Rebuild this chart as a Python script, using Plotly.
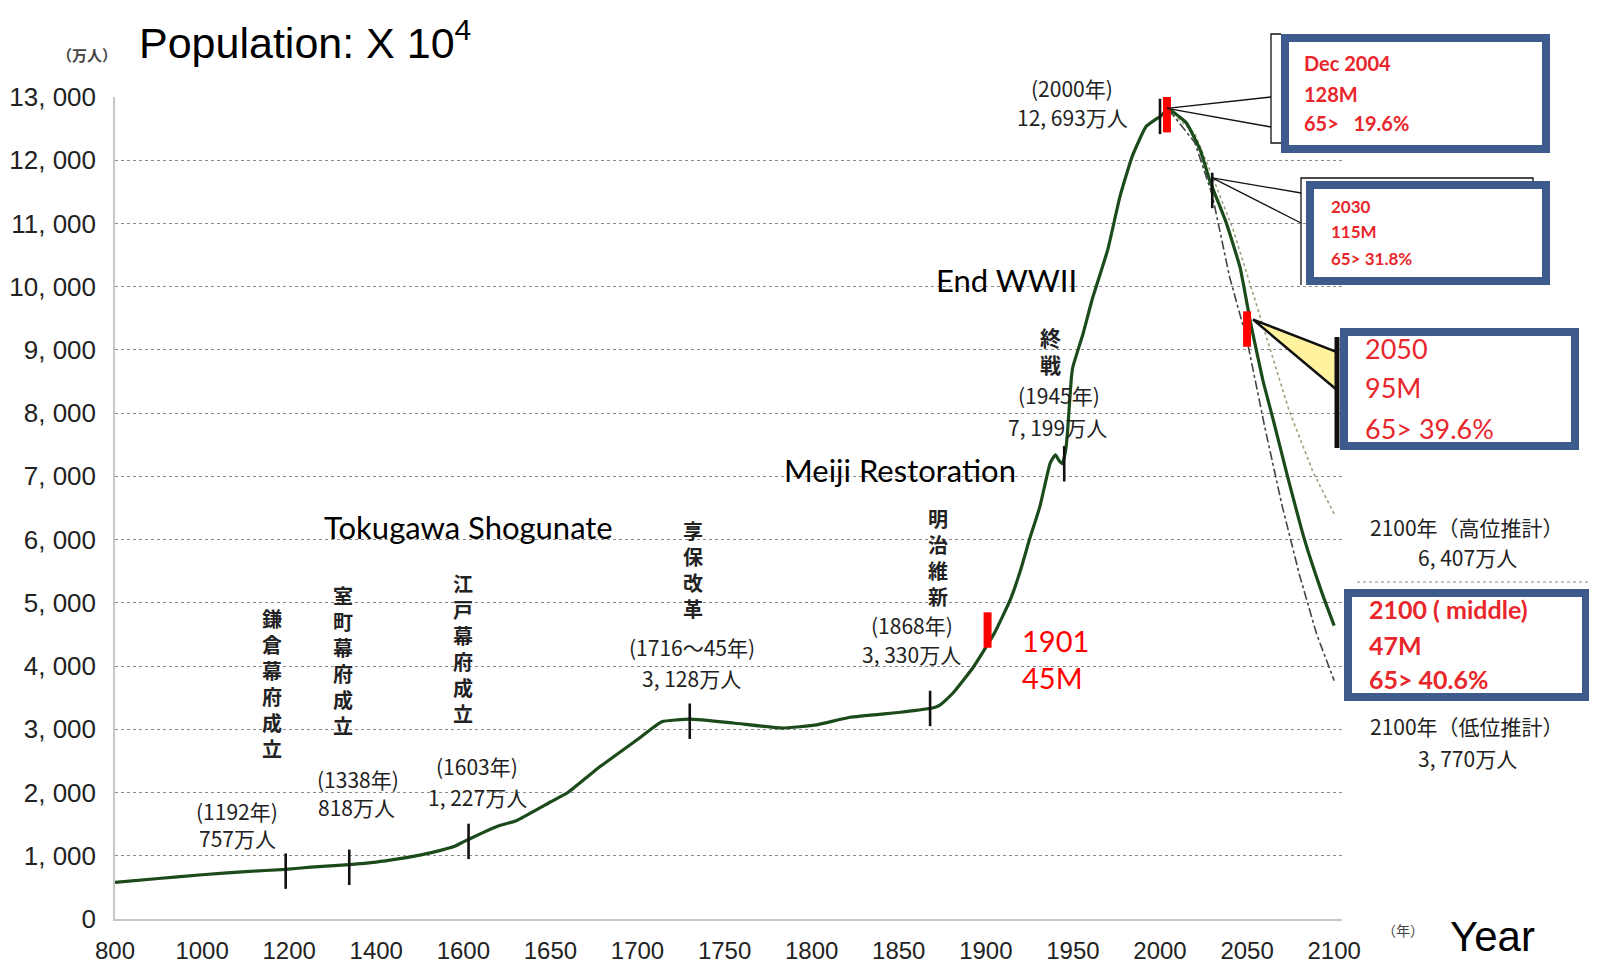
import numpy as np
import plotly.graph_objects as go

# ---------------- data ----------------
tick_years = [800, 1000, 1200, 1400, 1600, 1650, 1700, 1750, 1800, 1850,
              1900, 1950, 2000, 2050, 2100]
y_tick_vals = list(range(0, 13001, 1000))
y_tick_text = ["0", "1, 000", "2, 000", "3, 000", "4, 000", "5, 000", "6, 000",
               "7, 000", "8, 000", "9, 000", "10, 000", "11, 000", "12, 000", "13, 000"]

# historical + middle projection (万人)
pop_years = [800, 900, 1000, 1100, 1192, 1250, 1338, 1400, 1450, 1500, 1550, 1580,
             1600, 1610, 1620, 1630, 1650, 1660, 1678, 1700, 1714, 1730, 1755, 1783,
             1803, 1822, 1851, 1870, 1874, 1881, 1893, 1905, 1914, 1920, 1925, 1931,
             1937, 1940, 1942, 1944, 1946, 1947, 1949, 1950, 1956, 1961, 1970, 1977,
             1984, 1992, 2000, 2005, 2015, 2023, 2029, 2038, 2046, 2052, 2059, 2065,
             2073, 2083, 2093, 2100]
pop_values = [580, 640, 700, 750, 785, 820, 860, 900, 950, 1010, 1090, 1150,
              1220, 1350, 1470, 1550, 1850, 2000, 2400, 2840, 3120, 3160, 3100, 3020,
              3070, 3190, 3270, 3340, 3390, 3570, 3990, 4525, 5047, 5522, 5997, 6519,
              7215, 7342, 7250, 7199, 7450, 7737, 8528, 8734, 9272, 9794, 10585, 11424,
              12057, 12532, 12693, 12800, 12595, 12168, 11646, 11013, 10300, 9430, 8528, 7896,
              7025, 5997, 5158, 4640]

high_years = [2005, 2020, 2030, 2042, 2054, 2064, 2074, 2088, 2100]
high_values = [12800, 12420, 11750, 10900, 9840, 8960, 8050, 7060, 6407]

low_years = [2005, 2020, 2030, 2040, 2050, 2060, 2070, 2080, 2090, 2100]
low_values = [12800, 12280, 11450, 10150, 9150, 7800, 6550, 5450, 4500, 3770]

event_years = [1192, 1338, 1603, 1730, 1868, 1945, 2000, 2030]
event_values = [757, 818, 1227, 3128, 3330, 7199, 12693, 11522]

red_years = [1901, 2004, 2050]
red_values = [4570, 12720, 9330]

# ---------------- styling / layout helpers ----------------
PAGE_OFF = 8                              # default body margin of the html page
FIG_W, FIG_H = 1597 - 2 * PAGE_OFF, 973 - 2 * PAGE_OFF
L, R, T, B = 115, 1342, 97, 919          # plot area in page pixels
XMAX = 14.09
YMAX = 13000
TICK_HALF = 280

JP = "Noto Sans CJK JP, Noto Sans, sans-serif"
NARROW = "Liberation Sans Narrow, Arial Narrow, Liberation Sans, Arial, sans-serif"
EN = "Lato, Open Sans, sans-serif"
RED = "#e8262b"
BLUE = "#3d5b8c"


def xpos(years):
    return np.interp(years, tick_years, np.arange(len(tick_years)))


def px2x(p):
    return (p - L) / (R - L)


def px2y(p):
    return (B - p) / (B - T)


def d2px(year, val):
    return L + xpos(year) / XMAX * (R - L), B - val / YMAX * (B - T)


def seg(years, values, half):
    xs, ys = [], []
    for yr, v in zip(years, values):
        x = float(xpos(yr))
        xs += [x, x, None]
        ys += [v - half, v + half, None]
    return xs, ys


fig = go.Figure()
fig.add_trace(go.Scatter(x=xpos(low_years), y=low_values, mode="lines",
                         line=dict(color="#444444", width=1.6, dash="dashdot"),
                         hoverinfo="skip"))
fig.add_trace(go.Scatter(x=xpos(high_years), y=high_values, mode="lines",
                         line=dict(color="#9aa27a", width=1.6, dash="dot"),
                         hoverinfo="skip"))
fig.add_trace(go.Scatter(x=xpos(pop_years), y=pop_values, mode="lines",
                         line=dict(color="#1b4a1b", width=3.2, shape="spline", smoothing=0.4)))
ex, ey = seg(event_years, event_values, TICK_HALF)
fig.add_trace(go.Scatter(x=ex, y=ey, mode="lines", line=dict(color="#111111", width=2.6),
                         hoverinfo="skip"))
rx, ry = seg(red_years, red_values, TICK_HALF)
fig.add_trace(go.Scatter(x=rx, y=ry, mode="lines", line=dict(color="#ff0000", width=8),
                         hoverinfo="skip"))


def A(xp, yp, text, size, color="#222222", family=JP, xanchor="center", yanchor="middle"):
    return dict(x=px2x(xp), y=px2y(yp), xref="paper", yref="paper", text=text,
                showarrow=False, font=dict(size=size, color=color, family=family),
                xanchor=xanchor, yanchor=yanchor)


def V(s):
    return "<b>" + "<br>".join(list(s)) + "</b>"


ann = [
    A(137, 40, "Population: X 10<sup>4</sup>", 43, "#000000", NARROW, xanchor="left"),
    A(87, 55, "<b>（万人）</b>", 15, "#444444"),
    A(1403, 930, "（年）", 14, "#444444"),
    A(1492, 936, "Year", 42, "#000000", NARROW),
    A(468, 527, "Tokugawa Shogunate", 31, "#000000", EN),
    A(900, 470, "Meiji Restoration", 31, "#000000", EN),
    A(1006, 280, "End WWII", 31, "#000000", EN),
    A(1020, 640, "1901", 29, "#ff0000", EN, xanchor="left"),
    A(1020, 677, "45M", 29, "#ff0000", EN, xanchor="left"),
    # Japanese event labels
    A(272, 683, V("鎌倉幕府成立"), 20),
    A(237, 811, "(1192年)", 21), A(237, 838, "757万人", 21),
    A(343, 660, V("室町幕府成立"), 20),
    A(358, 779, "(1338年)", 21), A(356, 807, "818万人", 21),
    A(463, 648, V("江戸幕府成立"), 20),
    A(477, 766, "(1603年)", 21), A(478, 797, "1, 227万人", 21),
    A(693, 569, V("享保改革"), 20),
    A(692, 647, "(1716～45年)", 21), A(691, 678, "3, 128万人", 21),
    A(938, 557, V("明治維新"), 20),
    A(912, 625, "(1868年)", 21), A(911, 654, "3, 330万人", 21),
    A(1050, 350, V("終戦"), 21),
    A(1059, 395, "(1945年)", 21), A(1057, 427, "7, 199万人", 21),
    A(1072, 88, "(2000年)", 21), A(1072, 117, "12, 693万人", 21),
    A(1467, 527, "2100年（高位推計）", 21), A(1467, 557, "6, 407万人", 21),
    A(1467, 726, "2100年（低位推計）", 21), A(1467, 758, "3, 770万人", 21),
    # boxes text
    A(1302, 63, "<b>Dec 2004</b>", 20, RED, EN, xanchor="left"),
    A(1302, 94, "<b>128M</b>", 20, RED, EN, xanchor="left"),
    A(1302, 123, "<b>65>   19.6%</b>", 20, RED, EN, xanchor="left"),
    A(1329, 206, "<b>2030</b>", 17, RED, EN, xanchor="left"),
    A(1329, 232, "<b>115M</b>", 17, RED, EN, xanchor="left"),
    A(1329, 259, "<b>65> 31.8%</b>", 17, RED, EN, xanchor="left"),
    A(1363, 348, "2050", 27, RED, EN, xanchor="left"),
    A(1363, 388, "95M", 27, RED, EN, xanchor="left"),
    A(1363, 428, "65> 39.6%", 27, RED, EN, xanchor="left"),
    A(1367, 609, "<b>2100 ( middle)</b>", 25, RED, EN, xanchor="left"),
    A(1367, 645, "<b>47M</b>", 25, RED, EN, xanchor="left"),
    A(1367, 679, "<b>65> 40.6%</b>", 25, RED, EN, xanchor="left"),
]


def rect(x0, y0, x1, y1, lc, lw, fill):
    return dict(type="rect", xref="paper", yref="paper", x0=px2x(x0), x1=px2x(x1),
                y0=px2y(y0), y1=px2y(y1), line=dict(color=lc, width=lw), fillcolor=fill)


def line(x0, y0, x1, y1, color="#111111", width=1.3, dash=None):
    return dict(type="line", xref="paper", yref="paper", x0=px2x(x0), x1=px2x(x1),
                y0=px2y(y0), y1=px2y(y1), line=dict(color=color, width=width, dash=dash))


def path(points, lc, lw, fill=None, close=False):
    s = "M " + " L ".join(f"{px2x(a):.5f},{px2y(b):.5f}" for a, b in points)
    if close:
        s += " Z"
    d = dict(type="path", xref="paper", yref="paper", path=s, line=dict(color=lc, width=lw))
    if fill:
        d["fillcolor"] = fill
    return d


m04x, m04y = d2px(red_years[1], red_values[1] + 100)
m30x, m30y = d2px(event_years[7], event_values[7] + 200)
m50x, m50y = d2px(red_years[2], red_values[2] + 150)

shapes = [
    # box 1 callout
    path([(1281, 34), (1271, 34), (1271, 143), (1281, 143)], "#111111", 1.3),
    line(m04x, m04y, 1271, 97), line(m04x, m04y, 1271, 127),
    rect(1285, 38, 1546, 149, BLUE, 8, "white"),
    # box 2 callout
    path([(1301, 285), (1301, 178), (1533, 178), (1533, 183)], "#111111", 1.3),
    line(m30x, m30y, 1301, 193), line(m30x, m30y, 1301, 223),
    rect(1310, 185, 1546, 281, BLUE, 8, "white"),
    # box 3 callout (yellow wedge)
    path([(m50x + 6, m50y), (1337, 352), (1337, 390)], "#111111", 2.5, "#fff3a0", close=True),
    rect(1344, 332, 1575, 446, BLUE, 8, "white"),
    line(1337, 337, 1337, 448, "#111111", 5),
    # box 4
    line(1357, 582, 1589, 582, "#888888", 1, "dot"),
    rect(1348, 593, 1586, 697, BLUE, 8, "white"),
]

fig.update_layout(
    width=FIG_W, height=FIG_H,
    margin=dict(l=L - PAGE_OFF, r=(PAGE_OFF + FIG_W) - R, t=T - PAGE_OFF,
                b=(PAGE_OFF + FIG_H) - B, pad=0, autoexpand=False),
    paper_bgcolor="white", plot_bgcolor="white",
    showlegend=False,
    annotations=ann,
    shapes=shapes,
    xaxis=dict(range=[0, XMAX], tickmode="array", tickvals=list(range(len(tick_years))),
               ticktext=[str(t) for t in tick_years], showgrid=False, zeroline=False,
               showline=True, linecolor="#c8c8c8", linewidth=1.5, ticks="",
               automargin=False,
               tickfont=dict(family=NARROW, size=24, color="#222222"),
               ticklabelstandoff=9),
    yaxis=dict(range=[0, YMAX], tickmode="array", tickvals=y_tick_vals, ticktext=y_tick_text,
               showgrid=True, gridcolor="#8a8a8a", griddash="dot", gridwidth=1,
               zeroline=False, showline=True, linecolor="#c8c8c8", linewidth=1.5, ticks="",
               automargin=False,
               tickfont=dict(family=NARROW, size=26, color="#222222"),
               ticklabelstandoff=12),
)

fig.write_html("out.html")
